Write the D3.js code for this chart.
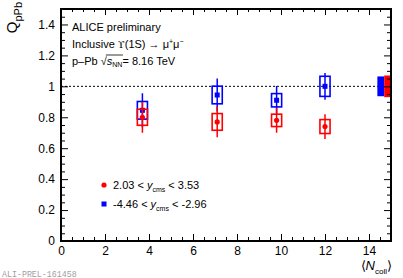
<!DOCTYPE html>
<html><head><meta charset="utf-8">
<script src="https://cdn.jsdelivr.net/npm/d3@7"></script>
<style>
html,body{margin:0;padding:0;background:#fff;}
svg{display:block;font-family:"Liberation Sans",Arial,Helvetica,sans-serif;}
</style></head>
<body>
<script>
// ---- data ----
const ncoll = [3.7, 7.1, 9.8, 12.0];
const fwdQ = [0.80, 0.77, 0.78, 0.74];
const fwdStat = [0.10, 0.10, 0.08, 0.08];
const fwdSys = [0.052, 0.054, 0.040, 0.045];
const bwdQ = [0.845, 0.944, 0.91, 1.0];
const bwdStat = [0.11, 0.106, 0.092, 0.086];
const bwdSys = [0.057, 0.057, 0.043, 0.065];
const globalFwd = 0.07;
const globalBwd = 0.064;
const xTicks = [0, 2, 4, 6, 8, 10, 12, 14];
const yTicks = [0, 0.2, 0.4, 0.6, 0.8, 1, 1.2, 1.4];
const yTickLabels = ["0", "0.2", "0.4", "0.6", "0.8", "1", "1.2", "1.4"];

const W = 403, H = 278;
const L = 61, R = 391, T = 9, B = 241;
const x = d3.scaleLinear().domain([0, 15]).range([L, R]);
const y = d3.scaleLinear().domain([0, 1.5]).range([B, T]);

const svg = d3.select("body").append("svg").attr("width", W).attr("height", H);

const red = "#ff0000", blue = "#0000ff";

// reference line
svg.append("line").attr("x1", x(0)).attr("x2", x(15)).attr("y1", y(1)).attr("y2", y(1))
  .attr("stroke", "#000").attr("stroke-width", 1).attr("stroke-dasharray", "2,2");

// data series
function series(Q, stat, sys, color, marker) {
  const g = svg.append("g");
  const bw = 0.23;
  Q.forEach((q, i) => {
    g.append("line").attr("x1", x(ncoll[i])).attr("x2", x(ncoll[i]))
      .attr("y1", y(q + stat[i])).attr("y2", y(q - stat[i]))
      .attr("stroke", color).attr("stroke-width", 1.5);
    g.append("rect").attr("x", x(ncoll[i] - bw)).attr("y", y(q + sys[i]))
      .attr("width", x(ncoll[i] + bw) - x(ncoll[i] - bw))
      .attr("height", y(q - sys[i]) - y(q + sys[i]))
      .attr("fill", "none").attr("stroke", color).attr("stroke-width", 1.6);
    if (marker === "circle") {
      g.append("circle").attr("cx", x(ncoll[i])).attr("cy", y(q)).attr("r", 2.6).attr("fill", color);
    } else {
      g.append("rect").attr("x", x(ncoll[i]) - 2.5).attr("y", y(q) - 2.5).attr("width", 5).attr("height", 5).attr("fill", color);
    }
  });
}
series(bwdQ, bwdStat, bwdSys, blue, "square");
series(fwdQ, fwdStat, fwdSys, red, "circle");

// global uncertainty boxes
svg.append("rect").attr("x", x(14.38)).attr("y", y(1 + globalBwd))
  .attr("width", x(14.69) - x(14.38)).attr("height", y(1 - globalBwd) - y(1 + globalBwd)).attr("fill", blue);
svg.append("rect").attr("x", x(14.69)).attr("y", y(1 + globalFwd))
  .attr("width", x(15) - x(14.69)).attr("height", y(1 - globalFwd) - y(1 + globalFwd)).attr("fill", red);

// axes (inward ticks)
const xMinor = d3.range(0, 15.01, 0.5).filter(v => Math.abs(v / 2 - Math.round(v / 2)) > 1e-6);
const yMinor = d3.range(0, 1.501, 0.05).filter(v => Math.abs(v / 0.2 - Math.round(v / 0.2)) > 1e-6);

function drawAxis(axis, transform) {
  const g = svg.append("g").attr("transform", transform).call(axis);
  g.select(".domain").remove();
  g.selectAll(".tick line").attr("stroke", "#000").attr("stroke-width", 1);
  return g;
}
// bottom
drawAxis(d3.axisBottom(x).tickValues(xTicks).tickSize(-7).tickPadding(5).tickFormat(d3.format("d")), `translate(0,${B})`)
  .selectAll("text").attr("font-size", 12).attr("font-family", "Liberation Sans, Arial, sans-serif").attr("fill", "#000");
drawAxis(d3.axisBottom(x).tickValues(xMinor).tickSize(-4).tickFormat(""), `translate(0,${B})`);
// top
drawAxis(d3.axisTop(x).tickValues(xTicks).tickSize(-6).tickFormat(""), `translate(0,${T})`);
drawAxis(d3.axisTop(x).tickValues(xMinor).tickSize(-3).tickFormat(""), `translate(0,${T})`);
// left
drawAxis(d3.axisLeft(y).tickValues(yTicks).tickSize(-7).tickPadding(6).tickFormat((d, i) => yTickLabels[i]), `translate(${L},0)`)
  .selectAll("text").attr("font-size", 12).attr("font-family", "Liberation Sans, Arial, sans-serif").attr("fill", "#000");
drawAxis(d3.axisLeft(y).tickValues(yMinor).tickSize(-4).tickFormat(""), `translate(${L},0)`);
// right
drawAxis(d3.axisRight(y).tickValues(yTicks).tickSize(-7).tickFormat(""), `translate(${R},0)`);
drawAxis(d3.axisRight(y).tickValues(yMinor).tickSize(-4).tickFormat(""), `translate(${R},0)`);

// frame
svg.append("rect").attr("x", L).attr("y", T).attr("width", R - L).attr("height", B - T)
  .attr("fill", "none").attr("stroke", "#000").attr("stroke-width", 2);

// text block
const tg = svg.append("g").attr("font-size", 11).attr("fill", "#000");
tg.append("text").attr("x", 72).attr("y", 31).text("ALICE preliminary");
const t2 = tg.append("text").attr("x", 72).attr("y", 48);
t2.append("tspan").text("Inclusive ");
t2.append("tspan").attr("font-family", "DejaVu Serif, serif").attr("font-size", 10).text("\u03d2");
t2.append("tspan").text("(1S) \u2192 \u03bc");
t2.append("tspan").attr("font-size", 7).attr("dy", -4).text("+");
t2.append("tspan").attr("dy", 4).text("\u03bc");
t2.append("tspan").attr("font-size", 7).attr("dy", -4).text("\u2212");
const t3 = tg.append("text").attr("x", 72).attr("y", 65);
t3.append("tspan").text("p\u2013Pb \u221a");
t3.append("tspan").attr("font-style", "italic").text("s");
t3.append("tspan").attr("font-size", 7).attr("dy", 2).text("NN");
t3.append("tspan").attr("dy", -2).text("= 8.16 TeV");
// overline of the sqrt
{
  const node = t3.node();
  const s0 = node.getStartPositionOfChar(6).x;
  const e0 = node.getEndPositionOfChar(8).x;
  tg.append("line").attr("x1", s0 - 1).attr("x2", e0 + 0.5).attr("y1", 55).attr("y2", 55)
    .attr("stroke", "#000").attr("stroke-width", 0.8);
}

// legend
const lg = svg.append("g").attr("font-size", 11).attr("fill", "#000");
lg.append("circle").attr("cx", 104).attr("cy", 185).attr("r", 2.6).attr("fill", red);
const l1 = lg.append("text").attr("x", 113).attr("y", 189);
l1.append("tspan").text("2.03 < ");
l1.append("tspan").attr("font-style", "italic").text("y");
l1.append("tspan").attr("font-size", 7).attr("dy", 3).text("cms");
l1.append("tspan").attr("dy", -3).text(" < 3.53");
lg.append("rect").attr("x", 101.5).attr("y", 201.5).attr("width", 5).attr("height", 5).attr("fill", blue);
const l2 = lg.append("text").attr("x", 113).attr("y", 208);
l2.append("tspan").text("-4.46 < ");
l2.append("tspan").attr("font-style", "italic").text("y");
l2.append("tspan").attr("font-size", 7).attr("dy", 3).text("cms");
l2.append("tspan").attr("dy", -3).text(" < -2.96");

// y axis title
const yt = svg.append("text").attr("transform", "translate(17,2) rotate(-90)")
  .attr("text-anchor", "end").attr("font-size", 15);
yt.append("tspan").text("Q");
yt.append("tspan").attr("font-size", 11).attr("dy", 5).text("pPb");

// x axis title
const xt = svg.append("text").attr("x", 392).attr("y", 270).attr("text-anchor", "end").attr("font-size", 13);
xt.append("tspan").text("\u27e8");
xt.append("tspan").attr("font-style", "italic").text("N");
xt.append("tspan").attr("font-size", 8).attr("dy", 4).text("coll");
xt.append("tspan").attr("dy", -4).text("\u27e9");

// figure id
svg.append("text").attr("x", 2).attr("y", 277).attr("font-family", "Liberation Mono, Courier New, monospace")
  .attr("font-size", 8.3).attr("fill", "#a0a0a0").text("ALI-PREL-161458");
</script>
</body></html>
